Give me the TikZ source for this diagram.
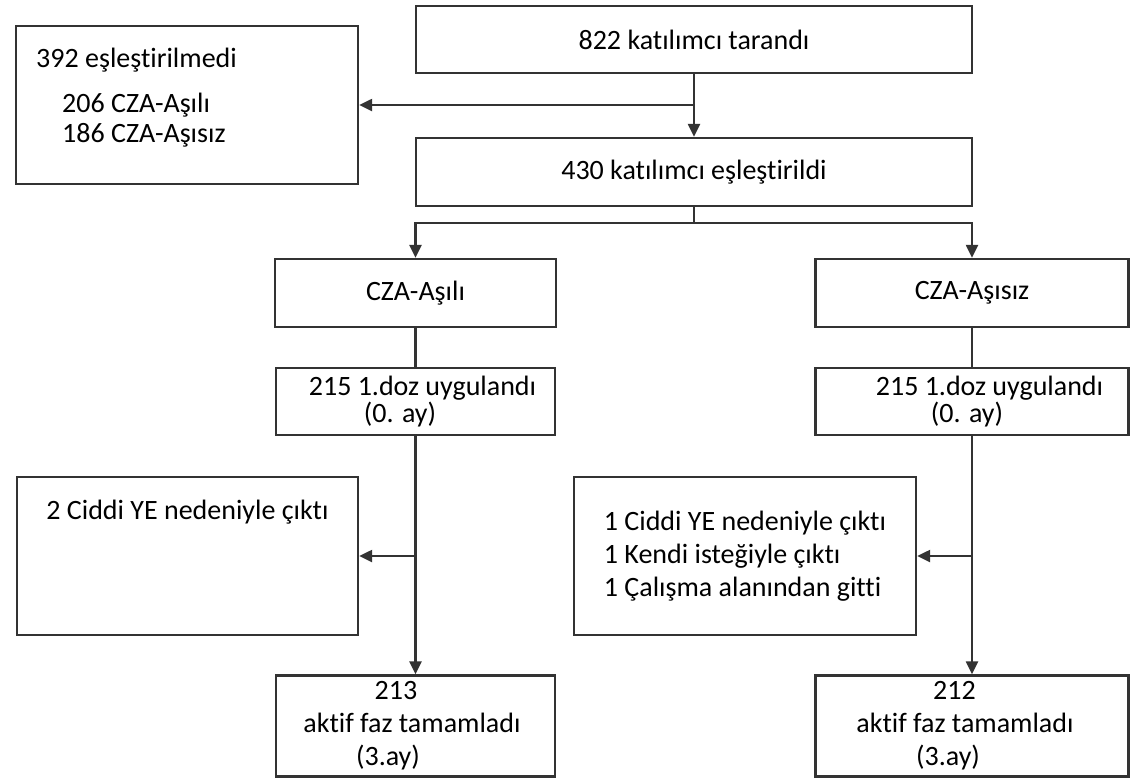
\documentclass[tikz,border=0pt]{standalone}
\usepackage{fontspec}
\setmainfont[RawFeature={-liga,-clig,-calt,-dlig}]{Carlito}
\usetikzlibrary{arrows.meta}
\tikzstyle{box} = [rectangle, draw=black!80, line width=1.2pt, inner sep=0pt, align=center, font=\fontsize{14pt}{16.5pt}\selectfont]
\tikzstyle{arrow} = [line width=1.2pt, draw=black!80, -{Triangle[length=6.5pt,width=6pt]}]
\tikzstyle{link} = [line width=1.2pt, draw=black!80]

\begin{document}
\begin{tikzpicture}[x=0.5pt, y=-0.5pt]
			\useasboundingbox (0,0) rectangle (1130,778);
			% Nodes
			\node (screened) [box, minimum width=278pt, minimum height=33.5pt] at (694,39.5) {822 katılımcı tarandı};
			\node (unmatched) [box, minimum width=171pt, minimum height=79pt,
				label={[anchor=north west, align=left, inner sep=0pt, font=\fontsize{14pt}{16.5pt}\selectfont, xshift=10.5pt, yshift=-11.5pt]north west:{392 eşleştirilmedi\\[6pt]\hspace*{13pt}206 CZA-Aşılı\\[-1.5pt]\hspace*{13pt}186 CZA-Aşısız}}] at (187,105) {};
			\node (matched) [box, minimum width=278pt, minimum height=34pt] at (694,172) {430 katılımcı eşleştirildi};
			\node (vaccinated) [box, minimum width=140.5pt, minimum height=34pt] at (415.5,293) {CZA-Aşılı};
			\node (unvaccinated) [box, minimum width=156.5pt, minimum height=34pt] at (972,293) {CZA-Aşısız};
			\node (dose1) [box, align=left, minimum width=139.5pt, minimum height=33.5pt] at (415.5,401.5) {\hspace*{7pt}215 1.doz uygulandı\\[-3pt]\hspace*{34.5pt}(0. ay)};
			\node (dose2) [box, align=left, minimum width=156.5pt, minimum height=33.5pt] at (972,401.5) {\hspace*{17.5pt}215 1.doz uygulandı\\[-3pt]\hspace*{45pt}(0. ay)};
			\node (drop1) [box, minimum width=170.5pt, minimum height=79pt,
				label={[anchor=north, inner sep=0pt, font=\fontsize{14pt}{16.5pt}\selectfont, yshift=-12pt]north:2 Ciddi YE nedeniyle çıktı}] at (187.5,556) {};
			\node (drop2) [box, align=left, minimum width=171pt, minimum height=79pt] at (745,556) {1 Ciddi YE nedeniyle çıktı\\1 Kendi isteğiyle çıktı\\1 Çalışma alanından gitti};
			\node (done1) [box, minimum width=139.5pt, minimum height=50.5pt] at (415.5,726) {213\hspace*{19.5pt}\null\\aktif faz tamamladı\hspace*{3.5pt}\null\\(3.ay)\hspace*{27.5pt}\null};
			\node (done2) [box, minimum width=156.5pt, minimum height=50.5pt] at (972,726) {212\hspace*{17.5pt}\null\\aktif faz tamamladı\hspace*{7pt}\null\\(3.ay)\hspace*{24pt}\null};
			
			% Arrows
			\coordinate (split) at (694,223);
			\draw [arrow] (screened) -- (matched);
			\draw [arrow] (screened.south |- unmatched.east) -- (unmatched.east);
			\draw [link] (matched) -- (split);
			\draw [arrow] (split) -| (vaccinated.north);
			\draw [arrow] (split) -| (unvaccinated.north);
			\draw [link] (vaccinated) -- (dose1);
			\draw [arrow] (dose1) -- (done1);
			\draw [arrow] (dose1.south |- drop1.east) -- (drop1.east);
			\draw [link] (unvaccinated) -- (dose2);
			\draw [arrow] (dose2) -- (done2);
			\draw [arrow] (dose2.south |- drop2.east) -- (drop2.east);
		\end{tikzpicture}
\end{document}
